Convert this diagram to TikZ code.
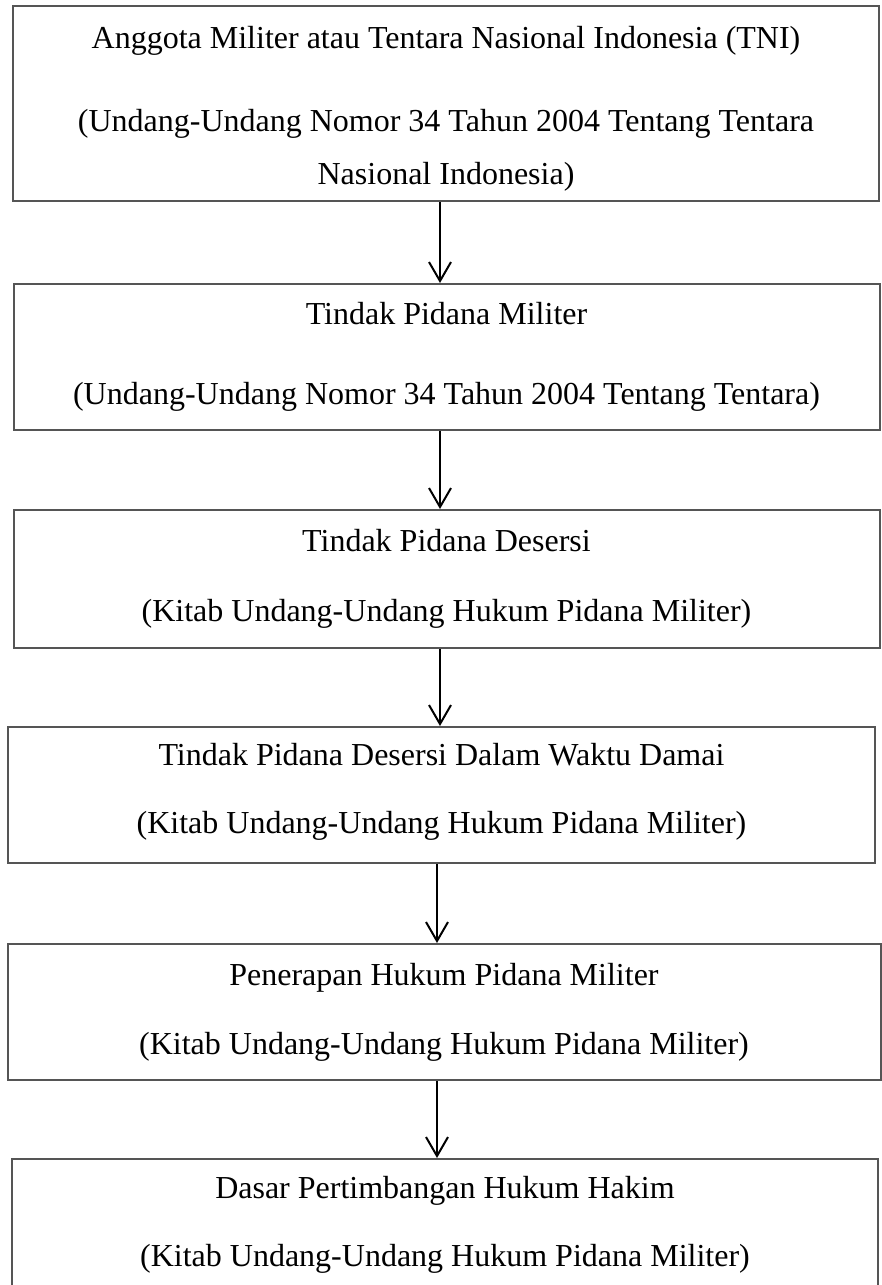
\documentclass[tikz,border=0pt]{standalone}
\usepackage{fontspec}
\setmainfont{Liberation Serif}
\usetikzlibrary{arrows.meta,positioning}
\definecolor{boxline}{HTML}{555555}

\begin{document}
\begin{tikzpicture}[x=1pt, y=-1pt,
  stagebox/.style={rectangle, draw=boxline, line width=2pt, inner sep=0pt, minimum width=866pt, align=center,
    font=\fontsize{32}{38}\selectfont},
  arr/.style={-{Straight Barb[length=19pt, width=22pt]}, line width=2pt, black}
]
  \useasboundingbox (0,0) rectangle (881,1285);

  \node[stagebox, minimum height=195pt] (tni) at (446,103.5)
    {\rule{0pt}{33pt}Anggota Militer atau Tentara Nasional Indonesia (TNI)\\[45pt]
     (Undang-Undang Nomor 34 Tahun 2004 Tentang Tentara\\[15pt]
     Nasional Indonesia)};
  \node[stagebox, minimum height=146pt] (militer) at (446.5,357)
    {Tindak Pidana Militer\\[42pt]
     (Undang-Undang Nomor 34 Tahun 2004 Tentang Tentara)};
  \node[stagebox, minimum height=138pt] (desersi) at (446.5,579)
    {Tindak Pidana Desersi\\[32pt]
     (Kitab Undang-Undang Hukum Pidana Militer)};
  \node[stagebox, minimum width=867pt, minimum height=136pt] (damai) at (441.5,795)
    {Tindak Pidana Desersi Dalam Waktu Damai\\[30pt]
     (Kitab Undang-Undang Hukum Pidana Militer)\rule[-13pt]{0pt}{0pt}};
  \node[stagebox, minimum width=873pt, minimum height=136pt] (penerapan) at (444,1012)
    {Penerapan Hukum Pidana Militer\\[31pt]
     (Kitab Undang-Undang Hukum Pidana Militer)};
  \node[stagebox, minimum height=132pt] (hakim) at (445,1225)
    {Dasar Pertimbangan Hukum Hakim\\[30pt]
     (Kitab Undang-Undang Hukum Pidana Militer)};

  % arrow axes
  \coordinate (spine) at (440,0);
  \coordinate (spinelow) at (437,0);

  \draw[arr] (tni.south -| spine) -- (militer.north -| spine);
  \draw[arr] (militer.south -| spine) -- (desersi.north -| spine);
  \draw[arr] (desersi.south -| spine) -- (damai.north -| spine);
  \draw[arr] (damai.south -| spinelow) -- (penerapan.north -| spinelow);
  \draw[arr] (penerapan.south -| spinelow) -- (hakim.north -| spinelow);
\end{tikzpicture}
\end{document}
